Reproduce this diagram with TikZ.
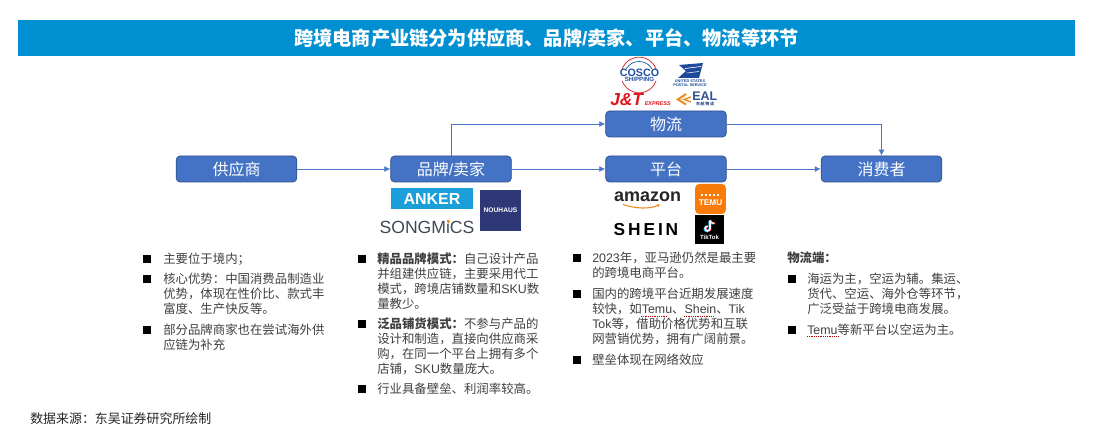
\documentclass[tikz,border=0pt]{standalone}
\usepackage{fontspec}
\setmainfont{Noto Sans CJK SC}
\newfontfamily\lat{Liberation Sans}
\usetikzlibrary{arrows.meta}
\definecolor{boxfill}{HTML}{4472C4}
\definecolor{boxline}{HTML}{2F528F}
\definecolor{linkc}{HTML}{4A78C8}
\definecolor{titlec}{HTML}{0090D2}
\definecolor{bodyc}{HTML}{404040}
\definecolor{coscob}{HTML}{1F4E9E}
\definecolor{coscor}{HTML}{D8303A}
\definecolor{uspsb}{HTML}{1F4A9C}
\definecolor{jtred}{HTML}{E0141E}
\definecolor{ealo}{HTML}{EE8A1E}
\definecolor{ankerc}{HTML}{1C9FD8}
\definecolor{nouc}{HTML}{2F3877}
\definecolor{songc}{HTML}{3F4A57}
\definecolor{temuc}{HTML}{F97C0A}
\tikzset{
  x=0.75pt,y=-0.75pt,
  flowbox/.style={draw=boxline,line width=0.6pt,fill=boxfill,rounded corners=3pt,text=white,
    minimum width=90.5pt,minimum height=19.5pt,inner sep=0pt,font=\fontsize{12}{14}\selectfont},
  flowlink/.style={draw=linkc,line width=0.6pt,-{Latex[length=4.5pt,width=4.5pt]}},
  bulletmark/.style={fill=black,minimum size=5.4pt,inner sep=0pt},
  bodytext/.style={anchor=west,align=left,inner sep=0pt,text=bodyc,
    font=\fontsize{9.3}{11.25}\selectfont},
  squiggle/.style={draw=red!75!black,line width=0.35pt,densely dotted},
}
\begin{document}
\begin{tikzpicture}
\useasboundingbox (0,0) rectangle (1095,427);
\fill[white] (0,0) rectangle (1095,427);
% title
\node[fill=titlec,minimum width=792.75pt,minimum height=27pt,inner sep=0pt,text=white,
  font=\fontsize{14.4}{17}\selectfont\bfseries] (title) at (546.5,38) {跨境电商产业链分为供应商、品牌{\lat /}卖家、平台、物流等环节};
% flow boxes
\node[flowbox] (sup) at (236.5,169) {供应商};
\node[flowbox] (brand) at (451,169) {品牌{\lat /}卖家};
\node[flowbox] (plat) at (666,169) {平台};
\node[flowbox] (cons) at (881.5,169) {消费者};
\node[flowbox] (logi) at (666,124) {物流};
\draw[flowlink] (sup) -- (brand);
\draw[flowlink] (brand) -- (plat);
\draw[flowlink] (plat) -- (cons);
\draw[flowlink] (brand.north) |- (logi.west);
\draw[flowlink] (logi.east) -| (cons.north);
% COSCO
\draw[coscor,line width=0.6pt] (656,69) arc[start angle=-20,end angle=-160,radius=18];
\draw[coscob,line width=0.5pt] (652,69) arc[start angle=-30,end angle=-150,radius=15];
\draw[coscor,line width=0.6pt] (656,81) arc[start angle=20,end angle=160,radius=18];
\node[inner sep=0pt,text=coscob,font=\lat\bfseries\fontsize{8}{8}\selectfont] (cosco) at (639.5,73) {COSCO};
\node[inner sep=0pt,text=coscob,font=\lat\bfseries\fontsize{4.6}{5}\selectfont] (shipping) at (639.5,79.5) {SHIPPING};
% USPS
\fill[uspsb] (679,65) -- (703,63) -- (699,78) -- (678,78) -- (686,71) -- cycle;
\draw[white,line width=0.5pt] (685,68.5) -- (701,66.5);
\draw[white,line width=0.4pt] (687,73) -- (699,71.5);
\node[inner sep=0pt,text=uspsb,align=center,font=\lat\bfseries\fontsize{2.9}{3.1}\selectfont] (usps) at (690,83)
  {UNITED STATES\\POSTAL SERVICE};
% J&T
\node[inner sep=0pt,text=jtred,anchor=base west,font=\lat\bfseries\itshape\fontsize{13}{13}\selectfont] (jt) at (610,105.5) {J\&T};
\node[inner sep=0pt,text=jtred,anchor=base west,font=\lat\bfseries\itshape\fontsize{4.1}{5}\selectfont] (jtx) at (644.5,105.5) {EXPRESS};
% EAL
\draw[ealo,line width=1.5pt] (686,94) -- (678,99.5) -- (686,104.5);
\draw[ealo,line width=1pt] (691,97) -- (684,99.5) -- (691,102);
\node[inner sep=0pt,text=boxline,anchor=base west,font=\lat\bfseries\fontsize{9.4}{9.4}\selectfont] (eal) at (692,100.5) {EAL};
\node[inner sep=0pt,text=boxline,font=\bfseries\fontsize{3}{3}\selectfont] (ealcn) at (705,104.2) {东\,航\,物\,流};
% brand logos
\node[fill=ankerc,text=white,minimum width=62pt,minimum height=15.5pt,inner sep=0pt,
  font=\lat\bfseries\fontsize{12}{12}\selectfont] (anker) at (432,198.5) {ANKER};
\node[fill=nouc,text=white,minimum size=30.5pt,inner sep=0pt,
  font=\lat\bfseries\fontsize{5}{6}\selectfont] (nouhaus) at (500.5,210.5) {NOUHAUS};
\node[text=songc,inner sep=0pt,font=\lat\fontsize{13.2}{13}\selectfont] (song) at (427,227) {SONGMiCS};
\fill[ealo] (448.5,221.5) circle[radius=1.6];
% platform logos
\node[inner sep=0pt,text=black!85,font=\lat\bfseries\fontsize{13.5}{14}\selectfont] (amazon) at (647.5,197) {amazon};
\draw[ealo,line width=0.8pt,-{Latex[length=2pt,width=2.5pt]}] (623,204.5) .. controls (636,209) and (650,209) .. (660,204.5);
\node[inner sep=0pt,text=black,font=\lat\bfseries\fontsize{13}{14}\selectfont] (shein) at (646,230) {S\,H\,E\,I\,N};
\node[fill=temuc,rounded corners=3pt,text=white,minimum width=23pt,minimum height=22.5pt,inner sep=0pt] (temu) at (710.5,199) {};
\node[inner sep=0pt,text=white,font=\lat\bfseries\fontsize{6.2}{6}\selectfont] (temut) at (710.5,203) {TEMU};
\draw[white,line width=1.2pt,dash pattern=on 1.6pt off 1.4pt] (701,195) -- (720,195);
\node[fill=black,text=white,minimum width=22pt,minimum height=22pt,inner sep=0pt] (tiktok) at (709.5,229.5) {};
\foreach \dx/\dy/\c in {-0.8/0.6/cyan,0.8/-0.2/red,0/0/white}{
  \draw[\c,line width=1.3pt,xshift=\dx*0.75pt,yshift=-\dy*0.75pt]
    (710,220.5) -- (710,228.5) arc[start angle=0,end angle=270,radius=2.4];
  \draw[\c,line width=1pt,xshift=\dx*0.75pt,yshift=-\dy*0.75pt]
    (710,220.5) .. controls (710.8,222.5) and (712,223.5) .. (714.5,223.5);
}
\node[inner sep=0pt,text=white,font=\lat\bfseries\fontsize{4.5}{5}\selectfont] (tikt) at (709.5,237) {TikTok};
% column 1
\node[bulletmark] (b11) at (147,259) {};
\node[bodytext] (t11) at (163,259) {主要位于境内；};
\node[bulletmark] (b12) at (147,279) {};
\node[bodytext] (t12) at (163,294) {核心优势：中国消费品制造业\\优势，体现在性价比、款式丰\\富度、生产快反等。};
\node[bulletmark] (b13) at (147,330) {};
\node[bodytext] (t13) at (163,337.5) {部分品牌商家也在尝试海外供\\应链为补充};
% column 2
\node[bulletmark] (b21) at (362,259) {};
\node[bodytext] (t21) at (377,281.5) {\textbf{精品品牌模式：}自己设计产品\\并组建供应链，主要采用代工\\模式，跨境店铺数量和{\lat SKU}数\\量教少。};
\node[bulletmark] (b22) at (362,324) {};
\node[bodytext] (t22) at (377,346.5) {\textbf{泛品铺货模式：}不参与产品的\\设计和制造，直接向供应商采\\购，在同一个平台上拥有多个\\店铺，{\lat SKU}数量庞大。};
\node[bulletmark] (b23) at (362,389) {};
\node[bodytext] (t23) at (377,389) {行业具备壁垒、利润率较高。};
% column 3
\node[bulletmark] (b31) at (577,258) {};
\node[bodytext] (t31) at (592,265.5) {{\lat 2023}年，亚马逊仍然是最主要\\的跨境电商平台。};
\node[bulletmark] (b32) at (577,294) {};
\node[bodytext] (t32) at (592,316.5) {国内的跨境平台近期发展速度\\较快，如{\lat Temu}、{\lat Shein}、{\lat Tik}\\{\lat Tok}等，借助价格优势和互联\\网营销优势，拥有广阔前景。};
\node[bulletmark] (b33) at (577,360) {};
\node[bodytext] (t33) at (592,360) {壁垒体现在网络效应};
\draw[squiggle] (641,316) -- (667,316);
\draw[squiggle] (684,316) -- (714,316);
% column 4
\node[bodytext,font=\fontsize{9.3}{11.25}\selectfont\bfseries] (t40) at (787,258) {物流端：};
\node[bulletmark] (b41) at (792,279) {};
\node[bodytext] (t41) at (807,294) {海运为主，空运为辅。集运、\\货代、空运、海外仓等环节，\\广泛受益于跨境电商发展。};
\node[bulletmark] (b42) at (792,330) {};
\node[bodytext] (t42) at (807,330) {{\lat Temu}等新平台以空运为主。};
\draw[squiggle] (807,336.5) -- (838,336.5);
% source
\node[bodytext,text=black!85,font=\fontsize{9.7}{11.25}\selectfont] (src) at (30,419) {数据来源：东吴证券研究所绘制};
\end{tikzpicture}
\end{document}
